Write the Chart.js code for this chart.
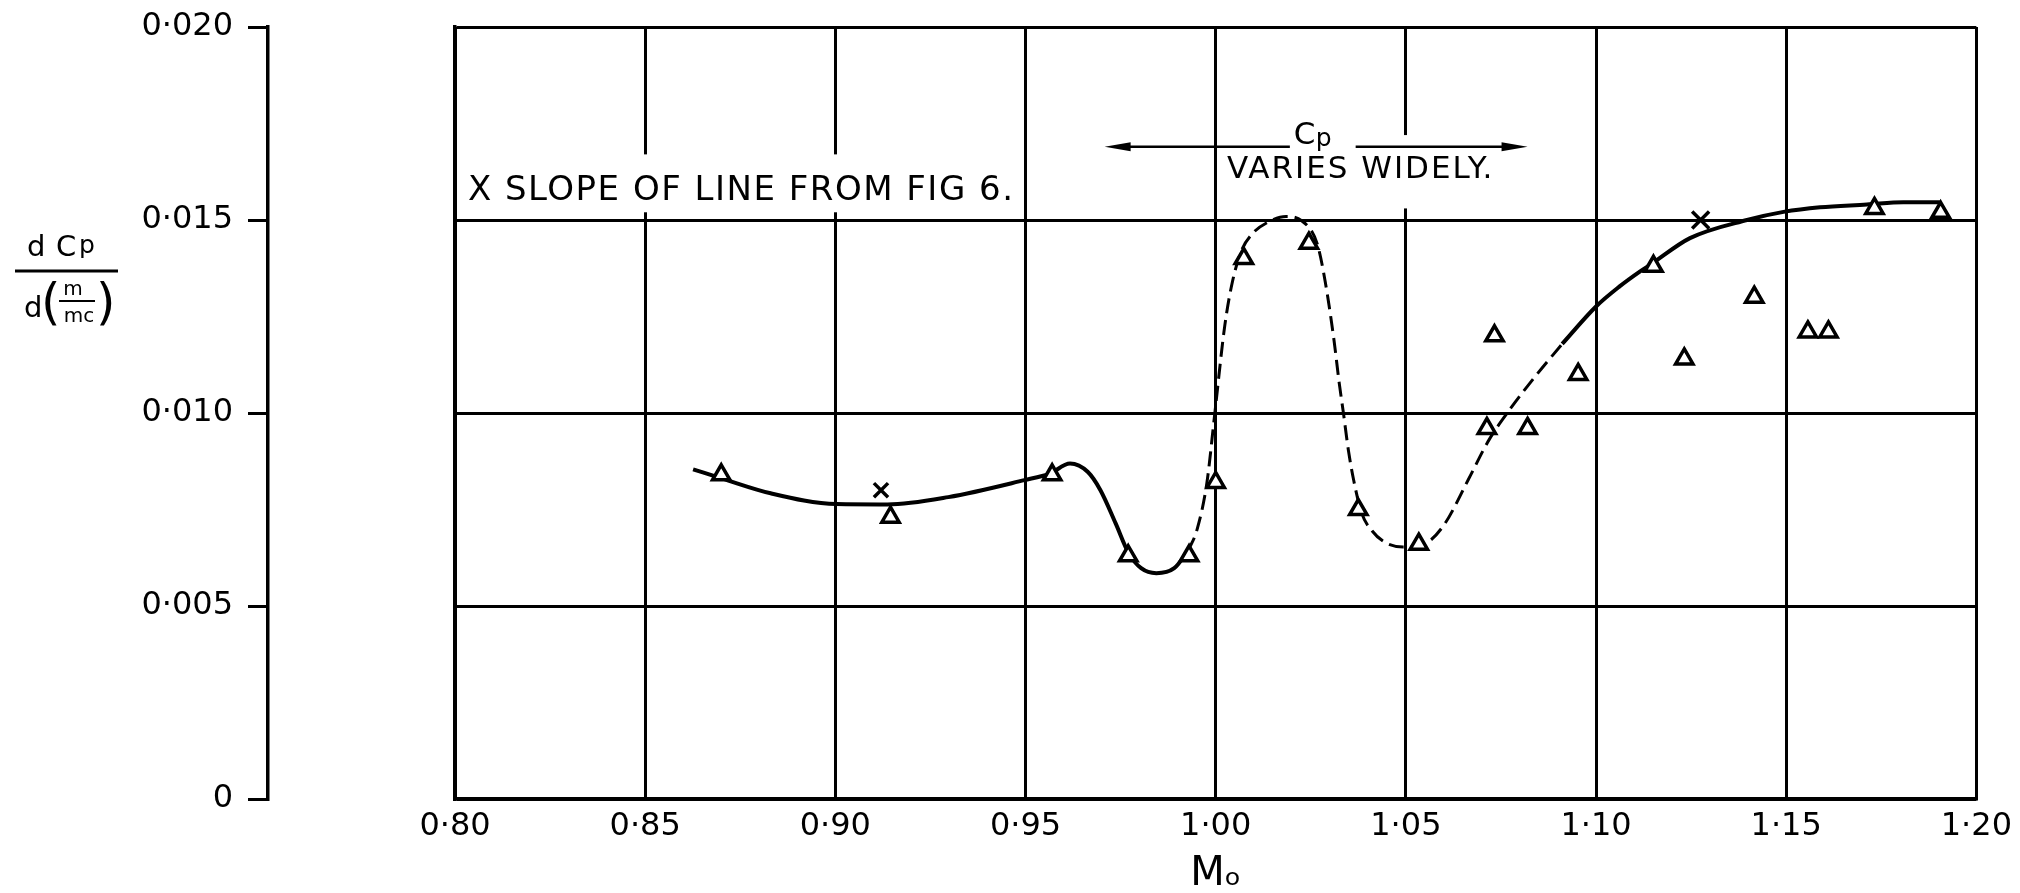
<!DOCTYPE html>
<html lang="en">
<head>
<meta charset="utf-8">
<title>dCp / d(m/mc) against Mo</title>
<script src="https://cdn.jsdelivr.net/npm/chart.js@4.4.1/dist/chart.umd.min.js"></script>
<style>
  html, body { margin: 0; padding: 0; background: #fff; }
  #caixa { width: 2020px; height: 893px; }
</style>
</head>
<body>
<div id="caixa"><canvas id="grafico"></canvas></div>
<script>
// pontos medidos (triangulos)
const trianguloX = [0.870, 0.9145, 0.957, 0.977, 0.993, 1.000, 1.0074, 1.0245, 1.0375, 1.0534,
  1.0713, 1.0733, 1.082, 1.0953, 1.1151, 1.1232, 1.1416, 1.1557, 1.1611, 1.1732, 1.1906];
const trianguloY = [0.0084, 0.0073, 0.0084, 0.0063, 0.0063, 0.0082, 0.0140, 0.0144, 0.0075, 0.0066,
  0.0096, 0.0120, 0.0096, 0.0110, 0.0138, 0.0114, 0.0130, 0.0121, 0.0121, 0.0153, 0.0152];

// X = slope of line from fig 6
const cruzX = [0.912, 1.1275];
const cruzY = [0.0080, 0.0150];

// curva continua da esquerda
const curvaEsqX = [0.8626, 0.8703, 0.883, 0.9003, 0.9137, 0.9297, 0.9497, 0.9564, 0.9617, 0.9664,
  0.9697, 0.9737, 0.9771, 0.9804, 0.9844, 0.9891, 0.9927];
const curvaEsqY = [0.00854, 0.0083, 0.00792, 0.00764, 0.00763, 0.00782, 0.00826, 0.00843, 0.00869, 0.00847,
  0.0080, 0.00714, 0.00637, 0.00598, 0.00585, 0.00598, 0.00642];

// trecho tracejado (Cp varia muito)
const curvaTracX = [0.9927, 0.9951, 0.9977, 0.9997, 1.0024, 1.0044, 1.0068, 1.0096, 1.0137, 1.0185,
  1.0226, 1.0267, 1.0288, 1.0311, 1.0325, 1.0336, 1.0349, 1.0363, 1.0384, 1.0411,
  1.0445, 1.0493, 1.0555, 1.0603, 1.0664, 1.0719, 1.0774, 1.0842, 1.0911];
const curvaTracY = [0.00642, 0.00698, 0.0082, 0.00993, 0.01227, 0.0134, 0.01421, 0.01464, 0.01494, 0.01509,
  0.01498, 0.01438, 0.0134, 0.01189, 0.01076, 0.00999, 0.00903, 0.00825, 0.0074, 0.00695,
  0.00665, 0.00653, 0.00664, 0.00714, 0.00827, 0.00931, 0.0101, 0.01097, 0.01179];

// curva continua da direita
const curvaDirX = [1.0911, 1.1000, 1.1062, 1.1116, 1.1144, 1.1247, 1.1397, 1.1493, 1.1589, 1.1712, 1.1808, 1.1904];
const curvaDirY = [0.01179, 0.01276, 0.01328, 0.01367, 0.01385, 0.01453, 0.0150, 0.01521, 0.01533, 0.0154, 0.01546, 0.01546];

// marcas dos eixos
const ticksX = [0.80, 0.85, 0.90, 0.95, 1.00, 1.05, 1.10, 1.15, 1.20];
const ticksY = [0, 0.005, 0.010, 0.015, 0.020];

const FONTE = "'DejaVu Sans', 'Liberation Sans', sans-serif";
Chart.defaults.font.family = FONTE;
Chart.defaults.color = '#000';

function pares(xs, ys) {
  return xs.map((x, i) => ({ x: x, y: ys[i] }));
}

function rotulo(valor, casas) {
  if (Math.abs(valor) < 1e-9) return '0';
  return valor.toFixed(casas).replace('.', '\u00b7');
}

// textos e setas dentro do grafico
const notas = {
  id: 'notas',
  beforeDatasetsDraw(chart) {
    const { ctx, scales: { x, y } } = chart;
    const px = v => x.getPixelForValue(v);
    const py = v => y.getPixelForValue(v);
    ctx.save();

    // tapa a grade atras dos textos
    ctx.fillStyle = '#fff';
    ctx.fillRect(px(0.8008), py(0.0167), px(0.946) - px(0.8008), py(0.0152) - py(0.0167));
    ctx.fillRect(px(1.040), py(0.0172), px(1.084) - px(1.040), py(0.0153) - py(0.0172));

    ctx.fillStyle = '#000';
    ctx.strokeStyle = '#000';
    ctx.textAlign = 'left';
    ctx.textBaseline = 'alphabetic';

    ctx.font = '34px ' + FONTE;
    ctx.letterSpacing = '1.5px';
    ctx.fillText('X SLOPE OF LINE FROM FIG 6.', px(0.8034), py(0.01551));

    ctx.font = '31px ' + FONTE;
    ctx.letterSpacing = '2px';
    ctx.fillText('VARIES WIDELY.', px(1.0030), py(0.01608));

    ctx.letterSpacing = '0px';
    const yl = py(0.0169);
    ctx.font = '31px ' + FONTE;
    ctx.fillText('C', px(1.0205), yl - 3);
    ctx.font = '25px ' + FONTE;
    ctx.fillText('p', px(1.0205) + 22, yl - 1);

    // seta dos dois lados
    ctx.lineWidth = 2.5;
    ctx.beginPath();
    ctx.moveTo(px(0.9708) + 10, yl);
    ctx.lineTo(px(1.0195), yl);
    ctx.moveTo(px(1.0368), yl);
    ctx.lineTo(px(1.0820) - 10, yl);
    ctx.stroke();

    const ponta = (xp, dir) => {
      ctx.beginPath();
      ctx.moveTo(xp, yl);
      ctx.lineTo(xp - dir * 26, yl - 4.5);
      ctx.lineTo(xp - dir * 26, yl + 4.5);
      ctx.closePath();
      ctx.fill();
    };
    ponta(px(0.9708), -1);
    ponta(px(1.0820), 1);

    ctx.restore();
  }
};

// titulo do eixo y em forma de fracao
const tituloY = {
  id: 'tituloY',
  afterDraw(chart) {
    const ctx = chart.ctx;
    ctx.save();
    ctx.fillStyle = '#000';
    ctx.strokeStyle = '#000';
    ctx.textBaseline = 'alphabetic';
    ctx.textAlign = 'left';

    ctx.font = '29px ' + FONTE;
    ctx.fillText('d', 27, 256);
    ctx.fillText('C', 56, 256);
    ctx.font = '25px ' + FONTE;
    ctx.fillText('p', 79, 253);

    ctx.lineWidth = 3;
    ctx.beginPath();
    ctx.moveTo(15, 271);
    ctx.lineTo(118, 271);
    ctx.stroke();

    ctx.font = '29px ' + FONTE;
    ctx.fillText('d', 24, 317);
    ctx.font = '50px ' + FONTE;
    ctx.fillText('(', 41, 319);
    ctx.fillText(')', 96, 319);

    ctx.textAlign = 'center';
    ctx.font = '20px ' + FONTE;
    ctx.fillText('m', 73, 295);
    ctx.fillText('mc', 79, 322);
    ctx.lineWidth = 2;
    ctx.beginPath();
    ctx.moveTo(59, 301);
    ctx.lineTo(95, 301);
    ctx.stroke();
    ctx.restore();
  }
};

const ctx = document.getElementById('grafico').getContext('2d');

const grafico = new Chart(ctx, {
  type: 'scatter',
  data: {
    datasets: [
      {
        label: 'Measured',
        data: pares(trianguloX, trianguloY),
        pointStyle: 'triangle',
        pointRadius: 10,
        pointBorderWidth: 3.5,
        borderColor: '#000',
        backgroundColor: '#fff',
        order: 0,
      },
      {
        label: 'Slope of line from fig 6',
        data: pares(cruzX, cruzY),
        pointStyle: 'crossRot',
        pointRadius: [10, 12],
        pointBorderWidth: 3.5,
        borderColor: '#000',
        backgroundColor: '#000',
        order: 1,
      },
      {
        type: 'line',
        data: pares(curvaEsqX, curvaEsqY),
        borderColor: '#000',
        borderWidth: 4,
        pointRadius: 0,
        cubicInterpolationMode: 'monotone',
        fill: false,
        order: 2,
      },
      {
        type: 'line',
        data: pares(curvaTracX, curvaTracY),
        borderColor: '#000',
        borderWidth: 3,
        borderDash: [15, 7],
        pointRadius: 0,
        cubicInterpolationMode: 'monotone',
        fill: false,
        order: 2,
      },
      {
        type: 'line',
        data: pares(curvaDirX, curvaDirY),
        borderColor: '#000',
        borderWidth: 4,
        pointRadius: 0,
        cubicInterpolationMode: 'monotone',
        fill: false,
        order: 2,
      },
    ],
  },
  options: {
    responsive: true,
    maintainAspectRatio: false,
    animation: false,
    layout: { padding: { top: 27, right: 38, bottom: 0, left: 0 } },
    plugins: {
      legend: { display: false },
      tooltip: { enabled: false },
    },
    scales: {
      x: {
        type: 'linear',
        min: 0.80,
        max: 1.20,
        afterBuildTicks: (eixo) => { eixo.ticks = ticksX.map(v => ({ value: v })); },
        afterFit: (eixo) => { eixo.height = 94; },
        ticks: {
          callback: (v) => rotulo(v, 2),
          font: { size: 32 },
          padding: 8,
          autoSkip: false,
          maxRotation: 0,
        },
        grid: { color: '#000', lineWidth: 3, drawTicks: false },
        border: { display: true, color: '#000', width: 3.5 },
        title: {
          display: true,
          text: 'M\u2092',
          font: { size: 40 },
          padding: { top: 0, bottom: -6 },
        },
      },
      y: {
        type: 'linear',
        position: 'left',
        weight: 0,
        min: 0,
        max: 0.020,
        afterBuildTicks: (eixo) => { eixo.ticks = ticksY.map(v => ({ value: v })); },
        afterFit: (eixo) => { eixo.width = 187; },
        ticks: { display: false },
        grid: { color: '#000', lineWidth: 3, drawTicks: false },
        border: { display: true, color: '#000', width: 3.5 },
      },
      yEsq: {
        type: 'linear',
        position: 'left',
        weight: 1,
        min: 0,
        max: 0.020,
        afterBuildTicks: (eixo) => { eixo.ticks = ticksY.map(v => ({ value: v })); },
        afterFit: (eixo) => {
          eixo.width = 268;
          // o rotulo do topo nao deve empurrar a area do grafico
          eixo.paddingTop = 0;
          eixo.paddingBottom = 0;
        },
        ticks: {
          callback: (v) => rotulo(v, 3),
          font: { size: 32 },
          padding: 15,
        },
        grid: { color: '#000', lineWidth: 3, drawOnChartArea: false, drawTicks: true, tickLength: 20 },
        border: { display: true, color: '#000', width: 3.5 },
      },
    },
  },
  plugins: [notas, tituloY],
});
</script>
</body>
</html>
